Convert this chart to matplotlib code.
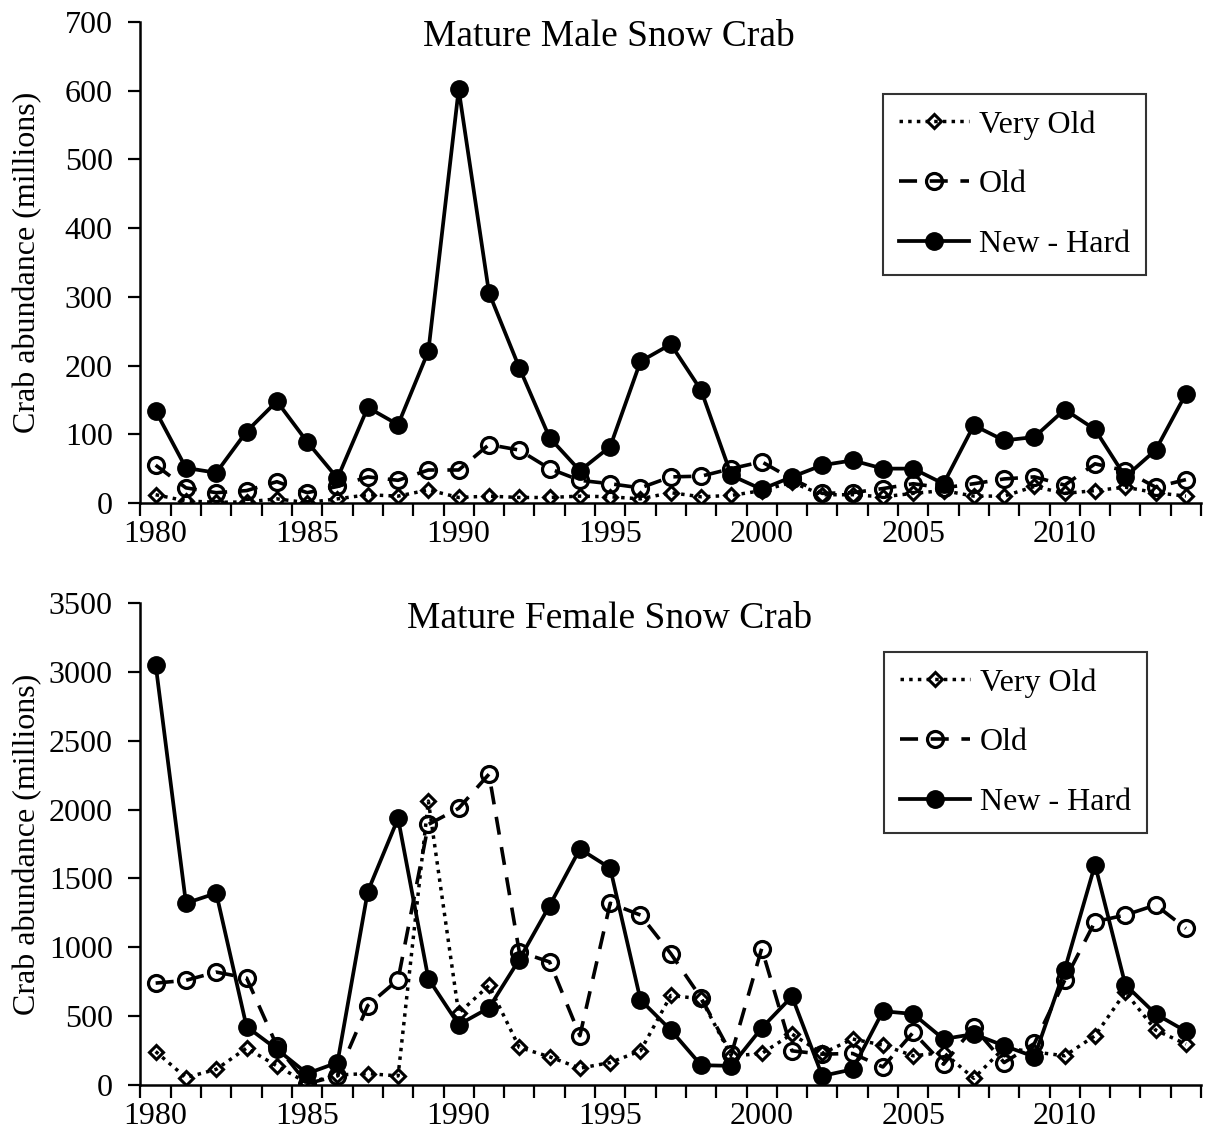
import numpy as np
import matplotlib.pyplot as plt

plt.rcParams['font.family'] = ['Liberation Serif', 'DejaVu Serif']

years = list(range(1980, 2015))

# mature males (millions)
male_very_old = [12, 3, 1, 1.5, 6, 0.5, 6, 12, 10, 19, 8, 10, 8, 8, 10, 9, 6,
                 15, 9, 11, 18, 30, 12, 12, 9, 14, 18, 10, 10, 24, 14, 18, 23, 15, 10]
male_old = [55, 22, 15, 18, 31, 15, 24, 38, 33, 48, 48, 85, 77, 50, 33, 28, 22,
            38, 39, 50, 60, 35, 14, 15, 21, 28, 22, 28, 35, 38, 26, 57, 47, 23, 34]
male_new_hard = [134, 51, 44, 104, 148, 89, 36, 139, 114, 221, 602, 306, 197, 95, 47, 82, 206,
                 231, 164, 40, 20, 38, 55, 62, 50, 50, 28, 113, 91, 96, 136, 107, 38, 77, 159]

# mature females (millions)
female_very_old = [243, 54, 114, 268, 139, 15, 73, 83, 66, 2062, 521, 723, 273, 205, 122, 163, 248,
                   650, 626, 210, 229, 370, 229, 334, 290, 212, 236, 49, 270, 240, 212, 358, 674, 399, 297]
female_old = [740, 760, 820, 777, 285, 10, 66, 577, 765, 1892, 2009, 2257, 967, 894, 358, 1320, 1234,
              954, 633, 224, 991, 248, 224, 229, 131, 382, 151, 419, 163, 302, 760, 1186, 1234, 1307, 1137]
female_new_hard = [3053, 1320, 1393, 424, 260, 83, 163, 1405, 1936, 772, 438, 560, 911, 1303, 1714, 1575, 618,
                   399, 144, 139, 414, 643, 66, 114, 536, 516, 334, 370, 285, 205, 838, 1600, 728, 516, 390]

tick_years = [1980, 1985, 1990, 1995, 2000, 2005, 2010]


def draw_panel(ax, very_old, old, new_hard, title, ymax, ystep, legend_anchor, title_y):
    x = np.arange(len(years))
    ax.plot(x, very_old, color='black', lw=2.5, linestyle=(0, (1, 1.5)),
            marker='D', ms=7, mfc='none', mec='black', mew=2.2, label='Very Old')
    ax.plot(x, old, color='black', lw=2.6, linestyle=(0, (5, 3.5)),
            marker='o', ms=11.5, mfc='none', mec='black', mew=2.3, label='Old')
    ax.plot(x, new_hard, color='black', lw=2.7, linestyle='-',
            marker='o', ms=12.5, mfc='black', mec='black', label='New - Hard')

    ax.set_xlim(-0.5, len(years) - 0.5)
    ax.set_ylim(0, ymax)
    ax.set_yticks(np.arange(0, ymax + 1, ystep))

    # tick marks sit between categories, labels every fifth year
    ax.set_xticks(np.arange(-0.5, len(years)), labels=[])
    ax.set_xticks([years.index(y) for y in tick_years], labels=[str(y) for y in tick_years], minor=True)
    ax.tick_params(axis='x', which='major', direction='out', length=9, width=1.6)
    ax.tick_params(axis='x', which='minor', length=0, pad=12, labelsize=23)
    ax.tick_params(axis='y', direction='out', length=9, width=1.6, pad=11, labelsize=23)

    for side in ('top', 'right'):
        ax.spines[side].set_visible(False)
    for side in ('left', 'bottom'):
        ax.spines[side].set_linewidth(1.8)

    ax.set_ylabel('Crab abundance (millions)', fontsize=23)
    ax.yaxis.set_label_coords(-0.093, 0.5)
    ax.text(0.442, title_y, title, transform=ax.transAxes, ha='center', va='center', fontsize=27)

    leg = ax.legend(loc='upper left', bbox_to_anchor=legend_anchor, borderaxespad=0,
                    fontsize=23, frameon=True, fancybox=False, edgecolor='black',
                    handlelength=2.2, handletextpad=0.3, labelspacing=0.95,
                    borderpad=0.5, numpoints=1)
    leg.get_frame().set_linewidth(1.5)


fig = plt.figure(figsize=(12.07, 11.39), dpi=100)
ax1 = fig.add_axes([0.1164, 0.5584, 0.8787, 0.4223])
ax2 = fig.add_axes([0.1164, 0.0474, 0.8787, 0.4232])

draw_panel(ax1, male_very_old, male_old, male_new_hard, 'Mature Male Snow Crab',
           700, 100, (0.700, 0.850), 0.97)
draw_panel(ax2, female_very_old, female_old, female_new_hard, 'Mature Female Snow Crab',
           3500, 500, (0.701, 0.898), 0.968)

fig.savefig('out.png', dpi=100)
